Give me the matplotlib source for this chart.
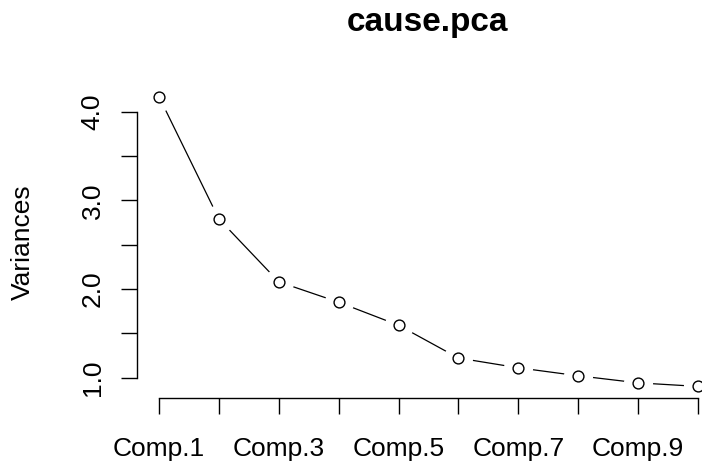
import matplotlib
matplotlib.use("Agg")
import matplotlib.pyplot as plt
import numpy as np

# DATA
components = ["Comp.1", "Comp.2", "Comp.3", "Comp.4", "Comp.5",
              "Comp.6", "Comp.7", "Comp.8", "Comp.9", "Comp.10"]
variances = [4.17, 2.79, 2.08, 1.85, 1.59, 1.22, 1.11, 1.02, 0.94, 0.90]
x_labels = ["Comp.1", "", "Comp.3", "", "Comp.5", "", "Comp.7", "", "Comp.9", ""]
y_ticks = [1.0, 1.5, 2.0, 2.5, 3.0, 3.5, 4.0]
y_labels = ["1.0", "", "2.0", "", "3.0", "", "4.0"]

plt.rcParams["font.family"] = ["Liberation Sans", "DejaVu Sans"]

W, H = 702, 466
fig = plt.figure(figsize=(W / 100, H / 100), dpi=100)

# plot region in pixels (R style, runs past the right edge)
left_px, right_px, top_px, bottom_px = 137.4, 719.6, 85, 398
ax = fig.add_axes([left_px / W, 1 - bottom_px / H,
                   (right_px - left_px) / W, (bottom_px - top_px) / H])

x = np.arange(1, len(variances) + 1)

# type="b": line with gaps around the points
ax.plot(x, variances, color="black", lw=0.9, zorder=1, clip_on=False)
ax.plot(x, variances, "o", ms=21, mfc="white", mec="none", zorder=1.5, clip_on=False)
ax.plot(x, variances, "o", ms=7.8, mfc="white", mec="black", mew=1.0, zorder=3, clip_on=False)

n = len(variances)
ax.set_xlim(1 - 0.04 * (n - 1), n + 0.04 * (n - 1))
rng = max(variances) - min(variances)
ax.set_ylim(min(variances) - 0.04 * rng, max(variances) + 0.04 * rng)

for s in ["top", "right"]:
    ax.spines[s].set_visible(False)
for s in ["left", "bottom"]:
    ax.spines[s].set_linewidth(1.0)
    ax.spines[s].set_zorder(2.5)
ax.spines["bottom"].set_bounds(1, n)
ax.spines["left"].set_bounds(1.0, 4.0)

ax.set_xticks(x)
ax.set_xticklabels(x_labels, fontsize=19)
ax.set_yticks(y_ticks)
ax.set_yticklabels(y_labels, fontsize=19, rotation=90, va="center")
ax.tick_params(axis="both", direction="out", length=11.5, width=1.0, color="black")
ax.tick_params(axis="x", pad=16.5)
ax.tick_params(axis="y", pad=12)

fig.text(23 / W, 1 - 242 / H, "Variances", rotation=90, ha="center", va="center", fontsize=19)
fig.text(428 / W, 1 - 23 / H, "cause.pca", ha="center", va="center", fontsize=24, fontweight="bold")

fig.savefig("out.png", dpi=100)
